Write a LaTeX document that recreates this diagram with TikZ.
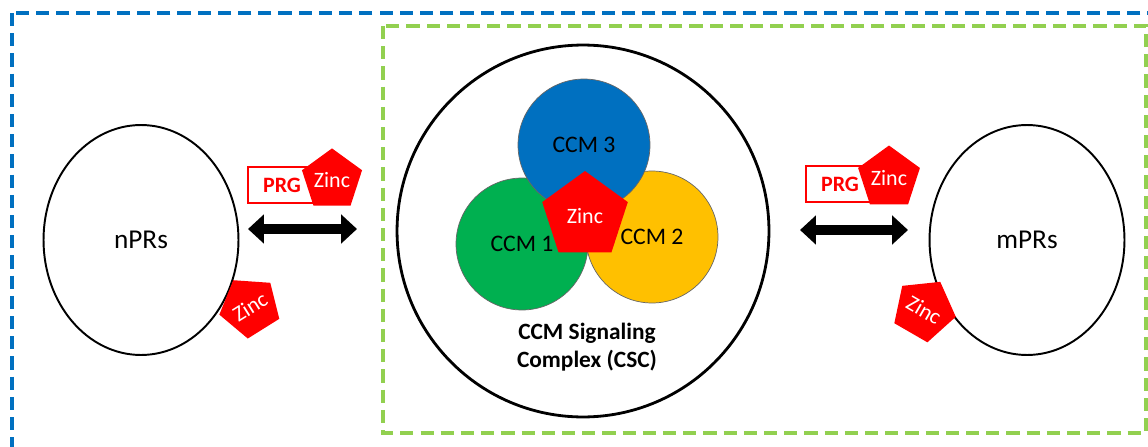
\documentclass[tikz,border=0pt]{standalone}
\usepackage{fontspec}
\setmainfont{Carlito}
\usetikzlibrary{arrows.meta}
\usetikzlibrary{shapes.geometric}

\definecolor{ccmblue}{HTML}{0070C0}
\definecolor{ccmgreen}{HTML}{00B050}
\definecolor{ccmyellow}{HTML}{FFC000}
\definecolor{zincred}{HTML}{FF0000}
\definecolor{framegreen}{HTML}{92D050}

\begin{document}
\begin{tikzpicture}[x=0.02cm, y=-0.02cm,
	receptor/.style={ellipse, draw, line width=1.1pt, minimum width=3.9cm, minimum height=4.6cm, font=\fontsize{15.5}{18}\selectfont},
	ccm/.style={circle, draw=black!60, line width=0.4pt, minimum size=2.64cm, font=\fontsize{13.5}{16}\selectfont},
	zinc/.style={regular polygon, regular polygon sides=5, fill=zincred, text=white, inner sep=0pt, font=\fontsize{12.5}{15}\selectfont},
	prg/.style={draw=zincred, line width=0.9pt, fill=white, text=zincred, font=\bfseries\fontsize{12.5}{15}\selectfont, minimum width=1.36cm, minimum height=0.72cm},
	dblarrow/.style={line width=5.6pt, {Triangle[length=9pt, width=16pt]}-{Triangle[length=9pt, width=16pt]}},
	dashframe/.style={line width=1.9pt, dash pattern=on 7.5pt off 4pt}]
		\useasboundingbox (0,0) rectangle (1148,446);
		\clip (0,0) rectangle (1148,446);
		
		% frames
		\draw[dashframe, ccmblue] (12,13) rectangle (1180,480);
		\draw[dashframe, framegreen] (383,26) rectangle (1146,433);
		
		% receptors and the complex
		\node[receptor] (npr) at (141,240) {nPRs};
		\node[receptor] (mpr) at (1027,240) {mPRs};
		\node[circle, draw, line width=1.6pt, minimum size=7.44cm] (csc) at (583,231) {};
		
		\node[ccm, fill=ccmgreen]  (ccm1) at (522,244) {CCM 1};
		\node[ccm, fill=ccmyellow] (ccm2) at (652,237) {CCM 2};
		\node[ccm, fill=ccmblue]   (ccm3) at (584,145) {CCM 3};
		\node[zinc, minimum size=1.8cm] (zc) at (585,216) {Zinc};
		\node[font=\bfseries\fontsize{13.3}{16}\selectfont, align=center] (csclabel) at (587,347) {CCM Signaling\\Complex (CSC)};
		
		% PRG with zinc
		\node[prg] (prgl) at (282,185) {PRG};
		\node[zinc, minimum size=1.24cm] (zl) at (332,180) {Zinc};
		\node[prg] (prgr) at (840,184) {PRG};
		\node[zinc, minimum size=1.3cm] (zr) at (889,178) {Zinc};
		
		% zinc on the receptors
		\node[zinc, minimum size=1.2cm, rotate=32] (zn) at (250,307) {Zinc};
		\node[zinc, minimum size=1.3cm, rotate=-30] (zm) at (924,310) {Zinc};
		
		\coordinate (l1) at (248,229);
		\coordinate (l2) at (357,229);
		\coordinate (r1) at (800,230);
		\coordinate (r2) at (908,230);
		\draw[dblarrow] (l1) -- (l2);
		\draw[dblarrow] (r1) -- (r2);
\end{tikzpicture}
\end{document}
